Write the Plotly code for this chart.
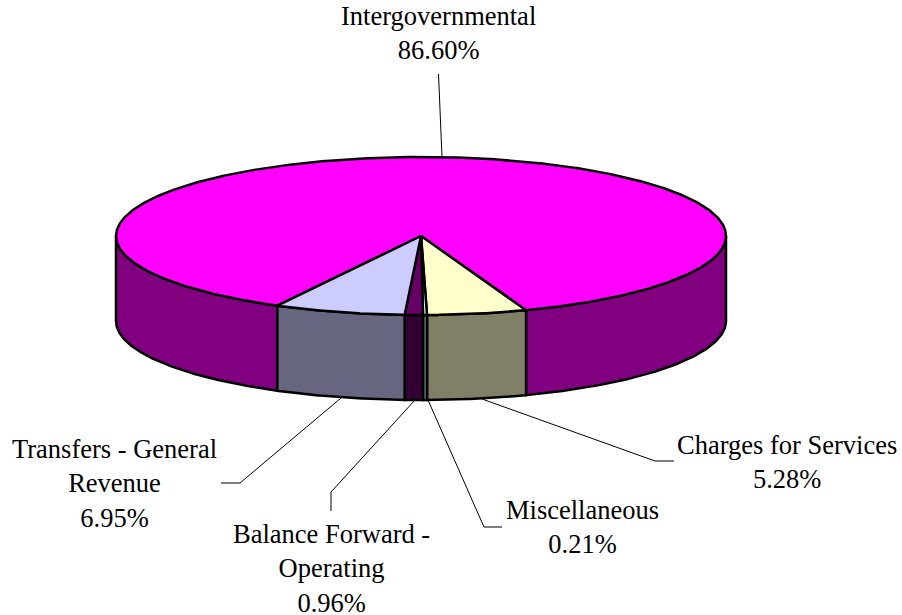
import numpy as np
import plotly.graph_objects as go

categories = ["Intergovernmental", "Charges for Services", "Miscellaneous",
              "Balance Forward - Operating", "Transfers - General Revenue"]
shares = [86.60, 5.28, 0.21, 0.96, 6.95]
top_colors = ["#FF00FF", "#FFFFCC", "#CCFFFF", "#660066", "#CCCCFF"]
wall_colors = ["#800080", "#808066", "#668080", "#330033", "#666680"]

# label text, one list of lines per slice, with the centre of each line block
label_lines = [["Intergovernmental", "86.60%"],
               ["Charges for Services", "5.28%"],
               ["Miscellaneous", "0.21%"],
               ["Balance Forward -", "Operating", "0.96%"],
               ["Transfers - General", "Revenue", "6.95%"]]
label_x = [438.5, 787, 582, 331, 114.5]
label_y = [33, 462, 527, 568, 483]

leader_x = [[438.5, 442], [482, 655, 674], [428, 484, 502], [415, 331, 331], [341, 240, 221]]
leader_y = [[74, 157], [399, 461, 461], [400, 527, 527], [400, 492, 511], [398, 483, 483]]

CX, CY, RX, RY, DEPTH = 421, 236, 305, 79, 85
START_DEG = 208.1  # clockwise from the back of the pie, where the first slice begins
FONT = "Liberation Serif"
FONT_SIZE = 26.5


def rim(theta_deg):
    t = np.radians(theta_deg)
    return CX + RX * np.sin(t), CY - RY * np.cos(t)


fig = go.Figure()

spans = []
a = START_DEG
for s in shares:
    b = a + s * 3.6
    spans.append((a, b))
    a = b


def add_poly(x, y, color):
    fig.add_trace(go.Scatter(x=x, y=y, mode="lines", fill="toself", fillcolor=color,
                             line=dict(color="black", width=2.5), hoverinfo="skip",
                             showlegend=False))


# side walls: only the part of each slice on the front half (90..270 deg, modulo 360)
for (a, b), col in zip(spans, wall_colors):
    xs, ys = [], []
    for k in (0, 360):
        lo, hi = max(a, 90 + k), min(b, 270 + k)
        if hi <= lo:
            continue
        th = np.linspace(lo, hi, max(3, int(hi - lo) * 3))
        px, py = rim(th)
        xs += list(px) + list(px[::-1]) + [px[0], None]
        ys += list(py) + list(py[::-1] + DEPTH) + [py[0], None]
    add_poly(xs, ys, col)

# top faces
for (a, b), col in zip(spans, top_colors):
    th = np.linspace(a, b, max(3, int(b - a) * 3))
    px, py = rim(th)
    add_poly([CX] + list(px) + [CX], [CY] + list(py) + [CY], col)

# leader lines
for lx, ly in zip(leader_x, leader_y):
    fig.add_trace(go.Scatter(x=lx, y=ly, mode="lines", line=dict(color="black", width=1),
                             hoverinfo="skip", showlegend=False))

# labels
for lines, x0, y0 in zip(label_lines, label_x, label_y):
    fig.add_annotation(x=x0, y=y0, text="<br>".join(lines), showarrow=False,
                       xanchor="center", yanchor="middle", align="center",
                       font=dict(family=FONT, size=FONT_SIZE, color="black"))

fig.update_layout(width=902, height=615, margin=dict(l=0, r=0, t=0, b=0),
                  paper_bgcolor="white", plot_bgcolor="white", showlegend=False,
                  xaxis=dict(range=[0, 902], visible=False, fixedrange=True),
                  yaxis=dict(range=[615, 0], visible=False, fixedrange=True))

fig.write_html("out.html", config=dict(displayModeBar=False),
               post_script="document.body.style.margin='0';")
